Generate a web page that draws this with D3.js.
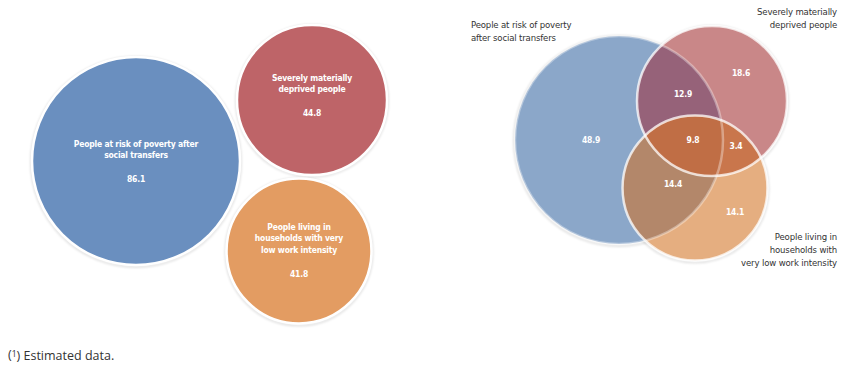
<!DOCTYPE html>
<meta charset="utf-8">
<style>
body { margin: 0; background: #fff; }
svg text { font-family: "Liberation Sans Narrow", "DejaVu Sans Condensed", "Liberation Sans", sans-serif; }
.inner { fill: #fff; font-size: 8.5px; font-weight: bold; text-anchor: middle; letter-spacing: -0.2px; }
.outer { fill: #333; font-size: 9.5px; letter-spacing: -0.15px; }
.note { fill: #333; font-size: 12.5px; font-family: "Open Sans", sans-serif; }
</style>
<body>
<script src="https://cdn.jsdelivr.net/npm/d3@7"></script>
<script>

// totals of each group (million people)
var categories = ["poverty", "deprived", "lowWork"];
var totals = [86.1, 44.8, 41.8];
var labelLines = [
  ["People at risk of poverty after", "social transfers"],
  ["Severely materially", "deprived people"],
  ["People living in", "households with very", "low work intensity"]
];
var outerLines = [
  ["People at risk of poverty", "after social transfers"],
  ["Severely materially", "deprived people"],
  ["People living in", "households with", "very low work intensity"]
];

// venn regions
var regionKeys = ["poverty", "deprived", "lowWork", "poverty+deprived", "poverty+lowWork", "deprived+lowWork", "all"];
var regionValues = [48.9, 18.6, 14.1, 12.9, 14.4, 3.4, 9.8];

var width = 850, height = 374;

var svg = d3.select("body").append("svg")
    .attr("width", width)
    .attr("height", height);

var r = d3.scaleSqrt().domain([0, 86.1]).range([0, 104]);

var solid = ["#6a8fbf", "#be6468", "#e39c62"];

// soft grey rim under the circles
var defs = svg.append("defs");
defs.append("filter").attr("id", "blur")
    .append("feGaussianBlur").attr("stdDeviation", 1);

// ---- left panel: separate circles
var leftPos = [[136, 161], [312, 100], [299, 251]];

var left = svg.append("g");

left.selectAll(".shadow")
    .data(totals)
  .enter().append("circle")
    .attr("cx", (d, i) => leftPos[i][0])
    .attr("cy", (d, i) => leftPos[i][1] + 1)
    .attr("r", d => r(d) + 1)
    .attr("fill", "none")
    .attr("stroke", "rgba(0,0,0,0.12)")
    .attr("stroke-width", 2)
    .attr("filter", "url(#blur)");

left.selectAll(".blob")
    .data(totals)
  .enter().append("circle")
    .attr("cx", (d, i) => leftPos[i][0])
    .attr("cy", (d, i) => leftPos[i][1])
    .attr("r", d => r(d))
    .attr("fill", (d, i) => solid[i])
    .attr("stroke", "#fff")
    .attr("stroke-width", 2.5);

// label block sits a bit above centre
var labelTop = [-17, -22, -24];
totals.forEach(function(v, i) {
  var t = left.append("text").attr("class", "inner");
  labelLines[i].forEach(function(line, j) {
    t.append("tspan")
      .attr("x", leftPos[i][0])
      .attr("y", leftPos[i][1] + labelTop[i] + j * 11.5)
      .attr("dy", "0.35em")
      .text(line);
  });
  left.append("text").attr("class", "inner")
    .attr("x", leftPos[i][0])
    .attr("y", leftPos[i][1] + labelTop[i] + (labelLines[i].length - 1) * 11.5 + 24)
    .attr("dy", "0.35em")
    .text(d3.format(".1f")(v));
});

// ---- right panel: venn
var rightPos = [[619, 140], [712, 101], [695, 188]];
var regionFill = {
  "poverty": "#8ba7c9",
  "deprived": "#c98788",
  "lowWork": "#e5ae80",
  "poverty+deprived": "#966279",
  "poverty+lowWork": "#b3876a",
  "deprived+lowWork": "#c9764c",
  "all": "#c06e45"
};

categories.forEach(function(c, i) {
  defs.append("clipPath").attr("id", "clip-" + c)
    .append("circle")
      .attr("cx", rightPos[i][0])
      .attr("cy", rightPos[i][1])
      .attr("r", r(totals[i]));
});

var right = svg.append("g");

right.selectAll(".shadow")
    .data(totals)
  .enter().append("circle")
    .attr("cx", (d, i) => rightPos[i][0])
    .attr("cy", (d, i) => rightPos[i][1] + 1)
    .attr("r", d => r(d) + 1)
    .attr("fill", "none")
    .attr("stroke", "rgba(0,0,0,0.12)")
    .attr("stroke-width", 2)
    .attr("filter", "url(#blur)");

function disc(g, i, key) {
  g.append("circle")
    .attr("cx", rightPos[i][0])
    .attr("cy", rightPos[i][1])
    .attr("r", r(totals[i]))
    .attr("fill", regionFill[key]);
}

categories.forEach(function(c, i) { disc(right, i, c); });
disc(right.append("g").attr("clip-path", "url(#clip-poverty)"), 1, "poverty+deprived");
disc(right.append("g").attr("clip-path", "url(#clip-poverty)"), 2, "poverty+lowWork");
disc(right.append("g").attr("clip-path", "url(#clip-deprived)"), 2, "deprived+lowWork");
disc(right.append("g").attr("clip-path", "url(#clip-poverty)")
  .append("g").attr("clip-path", "url(#clip-deprived)"), 2, "all");

right.selectAll(".rim")
    .data(totals)
  .enter().append("circle")
    .attr("cx", (d, i) => rightPos[i][0])
    .attr("cy", (d, i) => rightPos[i][1])
    .attr("r", d => r(d))
    .attr("fill", "none")
    .attr("stroke", "#fff")
    .attr("stroke-opacity", (d, i) => i == 0 ? 0.35 : 0.75)
    .attr("stroke-width", 2.5);

// value labels inside regions
var regionLabelPos = [[591, 140], [741, 73], [735, 212], [683, 94], [673, 184], [736, 146], [693, 140]];
right.selectAll(".val")
    .data(regionValues)
  .enter().append("text")
    .attr("class", "inner")
    .attr("x", (d, i) => regionLabelPos[i][0])
    .attr("y", (d, i) => regionLabelPos[i][1])
    .attr("dy", "0.35em")
    .text(d => d3.format(".1f")(d));

// group names outside the venn
var outerAnchor = [[471, 25, "start"], [837, 12, "end"], [837, 237, "end"]];
outerLines.forEach(function(lines, i) {
  var t = right.append("text").attr("class", "outer")
    .attr("text-anchor", outerAnchor[i][2]);
  lines.forEach(function(line, j) {
    t.append("tspan")
      .attr("x", outerAnchor[i][0])
      .attr("y", outerAnchor[i][1] + j * 13)
      .attr("dy", "0.35em")
      .text(line);
  });
});

// footnote
var note = svg.append("text").attr("class", "note")
    .attr("x", 8).attr("y", 355).attr("dy", "0.35em");
note.append("tspan").text("(");
note.append("tspan").attr("font-size", "8.5px").attr("dy", "-0.25em").text("1");
note.append("tspan").attr("dy", "0.25em").text(") Estimated data.");

</script>
</body>
